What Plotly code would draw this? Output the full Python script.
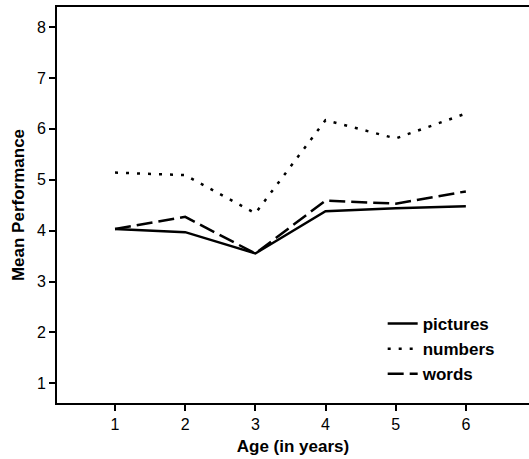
import plotly.graph_objects as go

ages = [1, 2, 3, 4, 5, 6]
pictures = [4.03, 3.97, 3.55, 4.38, 4.44, 4.48]
numbers = [5.14, 5.09, 4.34, 6.17, 5.81, 6.30]
words = [4.03, 4.27, 3.55, 4.59, 4.53, 4.77]

series = [
    ("pictures", pictures, "solid"),
    ("numbers", numbers, "3px,8px"),
    ("words", words, "16px,6px"),
]

fig = go.Figure()
for name, vals, dash in series:
    fig.add_trace(go.Scatter(
        x=ages, y=vals, name=name, mode="lines",
        line=dict(color="black", width=2.5, dash=dash),
    ))

font_family = "Liberation Sans, Arial, Helvetica, sans-serif"

fig.update_layout(
    width=529, height=459,
    margin=dict(l=57, r=0, t=7, b=56),
    paper_bgcolor="white", plot_bgcolor="white",
    font=dict(family=font_family, color="black", size=16),
    showlegend=True,
    legend=dict(
        x=0.69, y=0.245, xanchor="left", yanchor="top",
        bgcolor="rgba(0,0,0,0)", borderwidth=0,
        font=dict(size=17, family=font_family, weight="bold"),
        itemwidth=30, tracegroupgap=0,
    ),
    xaxis=dict(
        range=[0.173, 6.90], tickvals=ages, ticktext=[str(a) for a in ages],
        showline=True, linecolor="black", linewidth=2, mirror=True,
        ticks="outside", ticklen=6, tickwidth=2, tickcolor="black",
        showgrid=False, zeroline=False, showspikes=False,
        tickfont=dict(size=16),
        title=dict(text="<b>Age (in years)</b>", font=dict(size=17), standoff=8),
    ),
    yaxis=dict(
        range=[0.613, 8.393], tickvals=[1, 2, 3, 4, 5, 6, 7, 8],
        showline=True, linecolor="black", linewidth=2, mirror=False,
        ticks="outside", ticklen=6, tickwidth=2, tickcolor="black",
        showgrid=False, zeroline=False, showspikes=False,
        tickfont=dict(size=16),
        title=dict(text="<b>Mean Performance</b>", font=dict(size=17), standoff=8),
    ),
    dragmode=False,
)

fig.write_html(
    "out.html",
    config={"displayModeBar": False, "staticPlot": True},
    post_script="document.body.style.margin='0px';document.body.style.overflow='hidden';",
)
